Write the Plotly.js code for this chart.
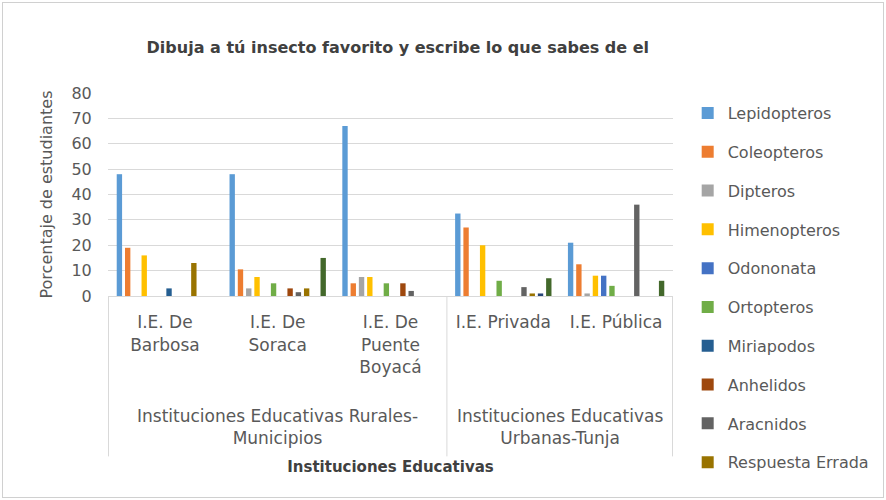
<!DOCTYPE html>
<html>
<head>
<meta charset="utf-8">
<script src="https://cdn.plot.ly/plotly-3.0.1.min.js"></script>
<style>
  html, body { margin: 0; padding: 0; background: #ffffff; }
  #wrap { position: relative; width: 886px; height: 500px; }
  #chart { width: 886px; height: 500px; }
  #frame { position: absolute; left: 2px; top: 2px; right: 2px; bottom: 2px; border: 1px solid #D0D0D0; pointer-events: none; }
</style>
</head>
<body>
<div id="wrap"><div id="chart"></div><div id="frame"></div></div>
<script>
// Categories
const instituciones = [
  "I.E. De<br>Barbosa",
  "I.E. De<br>Soraca",
  "I.E. De<br>Puente<br>Boyacá",
  "I.E. Privada",
  "I.E. Pública"
];
// Outer category groups (first and last category index of each group)
const grupos = [
  "Instituciones Educativas Rurales-<br>Municipios",
  "Instituciones Educativas<br>Urbanas-Tunja"
];
const grupoInicio = [0, 3];
const grupoFin = [2, 4];

// Series values (% of students)
const lepidopteros = [48, 48, 67, 32.5, 21];
const coleopteros  = [19, 10.5, 5, 27, 12.5];
const dipteros     = [0, 3, 7.5, 0, 1];
const himenopteros = [16, 7.5, 7.5, 20, 8];
const odononata    = [0, 0, 0, 0, 8];
const ortopteros   = [0, 5, 5, 6, 4];
const miriapodos   = [3, 0, 0, 0, 0];
const anhelidos    = [0, 3, 5, 0, 0];
const aracnidos    = [0, 1.5, 2, 3.5, 36];
const respuestaErrada = [13, 3, 0, 1, 0];
const serie11      = [0, 0, 0, 1, 0];
const serie12      = [0, 15, 0, 7, 6];

const seriesNames = ["Lepidopteros","Coleopteros","Dipteros","Himenopteros","Odononata","Ortopteros","Miriapodos","Anhelidos","Aracnidos","Respuesta Errada","Serie 11","Serie 12"];
const seriesValues = [lepidopteros, coleopteros, dipteros, himenopteros, odononata, ortopteros, miriapodos, anhelidos, aracnidos, respuestaErrada, serie11, serie12];
const seriesColors = ["#5B9BD5","#ED7D31","#A5A5A5","#FFC000","#4472C4","#70AD47","#255E91","#9E480E","#636363","#997300","#264478","#43682B"];

const FONT = "DejaVu Sans, Open Sans, sans-serif";
const GREY = "#595959";
const DIVIDER = "#D9D9D9";

const traces = seriesNames.map((n, i) => ({
  type: "bar",
  name: n,
  x: instituciones,
  y: seriesValues[i],
  marker: { color: seriesColors[i] },
  legendgroup: "g" + i,
  showlegend: i < 10,
  hoverinfo: "name+y"
}));

// Group labels and divider lines placed on the category axis scale
const annotations = grupos.map((g, k) => ({
  text: g,
  xref: "x", x: (grupoInicio[k] + grupoFin[k]) / 2,
  yref: "paper", y: -0.645, yanchor: "middle",
  showarrow: false,
  font: { family: FONT, size: 17, color: GREY }
}));
const bordes = [grupoInicio[0] - 0.5].concat(grupoFin.map(f => f + 0.5));
const shapes = bordes.map(b => ({
  type: "line", xref: "x", x0: b, x1: b, yref: "paper", y0: 0, y1: -0.79,
  line: { color: DIVIDER, width: 1 }
}));

const layout = {
  width: 886,
  height: 500,
  paper_bgcolor: "#ffffff",
  plot_bgcolor: "#ffffff",
  margin: { l: 108, r: 211, t: 93, b: 204 },
  barmode: "group",
  bargap: 0.12,
  bargroupgap: 0.35,
  font: { family: FONT, color: GREY, size: 14 },
  title: {
    text: "<b>Dibuja a tú insecto favorito y escribe lo que sabes de el</b>",
    font: { family: FONT, size: 16, color: "#404040" },
    xref: "container", x: 0.449, xanchor: "center",
    yref: "container", y: 0.906, yanchor: "middle"
  },
  yaxis: {
    range: [0, 80],
    dtick: 10,
    showgrid: true,
    gridcolor: "#D9D9D9",
    gridwidth: 1,
    zeroline: false,
    showline: false,
    ticks: "outside",
    ticklen: 12,
    tickcolor: "rgba(0,0,0,0)",
    tickfont: { family: FONT, size: 16, color: GREY },
    title: { text: "Porcentaje de estudiantes", font: { family: FONT, size: 16, color: GREY }, standoff: 14 },
    automargin: false
  },
  xaxis: {
    type: "category",
    showline: true,
    linecolor: "#D9D9D9",
    linewidth: 1,
    ticks: "",
    ticklabelstandoff: 11,
    showgrid: false,
    tickfont: { family: FONT, size: 17, color: GREY },
    title: { text: "<b>Instituciones Educativas</b>", font: { family: FONT, size: 15, color: "#404040" }, standoff: 85 },
    automargin: false
  },
  annotations: annotations,
  shapes: shapes,
  legend: {
    x: 1.026, xanchor: "left",
    y: 0.985, yanchor: "top",
    font: { family: FONT, size: 16, color: GREY },
    tracegroupgap: 15,
    maxheight: 460,
    bgcolor: "rgba(0,0,0,0)"
  }
};

Plotly.newPlot("chart", traces, layout, { displayModeBar: false, responsive: false });
</script>
</body>
</html>
